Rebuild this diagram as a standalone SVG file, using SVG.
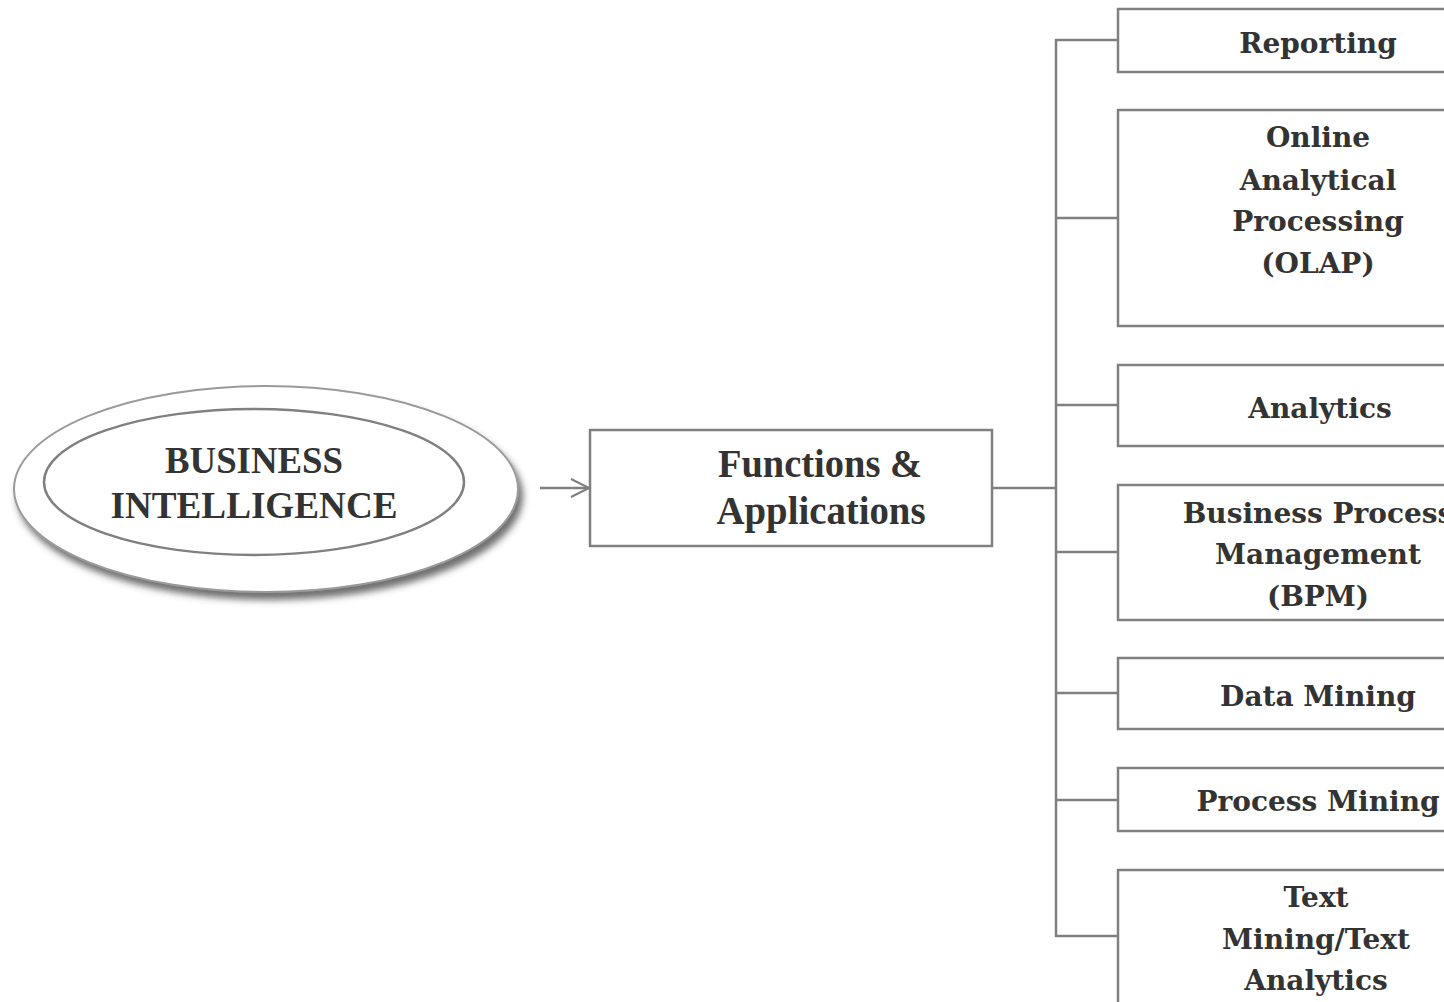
<svg xmlns="http://www.w3.org/2000/svg" width="1444" height="1002" viewBox="0 0 1444 1002">
  <defs>
    <filter id="shadow" x="-10%" y="-20%" width="125%" height="150%">
      <feDropShadow dx="4" dy="7" stdDeviation="3.5" flood-color="#404040" flood-opacity="0.75"/>
    </filter>
    <marker id="arrow" markerWidth="22" markerHeight="22" refX="19" refY="11" orient="auto" markerUnits="userSpaceOnUse">
      <path d="M1,2 L19,11 L1,20" fill="none" stroke="#808080" stroke-width="2.2"/>
    </marker>
    <style>
      .box { fill: #fff; stroke: #808080; stroke-width: 2.5; }
      .wire { fill: none; stroke: #808080; stroke-width: 2.5; }
      .serif { font-family: "Liberation Serif", "Times New Roman", serif; font-weight: bold; fill: #333; text-anchor: middle; }
      .item { font-family: "DejaVu Serif", "Liberation Serif", serif; font-weight: bold; font-size: 28px; fill: #333; text-anchor: middle; }
    </style>
  </defs>

  <!-- connectors -->
  <g id="connectors">
    <line class="wire" x1="540" y1="488" x2="589" y2="488" marker-end="url(#arrow)"/>
    <line class="wire" x1="992" y1="488" x2="1056" y2="488"/>
    <line class="wire" x1="1056" y1="39" x2="1056" y2="937"/>
    <line class="wire" x1="1055" y1="40" x2="1118" y2="40"/>
    <line class="wire" x1="1055" y1="218" x2="1118" y2="218"/>
    <line class="wire" x1="1055" y1="405" x2="1118" y2="405"/>
    <line class="wire" x1="1055" y1="552" x2="1118" y2="552"/>
    <line class="wire" x1="1055" y1="693" x2="1118" y2="693"/>
    <line class="wire" x1="1055" y1="800" x2="1118" y2="800"/>
    <line class="wire" x1="1055" y1="936" x2="1118" y2="936"/>
  </g>

  <!-- root node -->
  <g id="business-intelligence">
    <ellipse cx="266" cy="489" rx="252" ry="103" fill="#fff" stroke="#9a9a9a" stroke-width="2" filter="url(#shadow)"/>
    <ellipse cx="254" cy="482" rx="210" ry="73" fill="none" stroke="#808080" stroke-width="2.5"/>
    <text class="serif" x="254" y="473" font-size="38" textLength="178" lengthAdjust="spacingAndGlyphs">BUSINESS</text>
    <text class="serif" x="254" y="518" font-size="38" textLength="287" lengthAdjust="spacingAndGlyphs">INTELLIGENCE</text>
  </g>

  <g id="functions-applications">
    <rect class="box" x="590" y="430" width="402" height="116"/>
    <text class="serif" x="820" y="477" font-size="41" textLength="204" lengthAdjust="spacingAndGlyphs">Functions &amp;</text>
    <text class="serif" x="821" y="524" font-size="41" textLength="209" lengthAdjust="spacingAndGlyphs">Applications</text>
  </g>

  <g id="reporting">
    <rect class="box" x="1118" y="9" width="340" height="63"/>
    <text class="item" x="1318" y="53">Reporting</text>
  </g>

  <g id="olap">
    <rect class="box" x="1118" y="110" width="340" height="216"/>
    <text class="item" x="1318" y="147">Online</text>
    <text class="item" x="1318" y="190">Analytical</text>
    <text class="item" x="1318" y="231">Processing</text>
    <text class="item" x="1318" y="273">(OLAP)</text>
  </g>

  <g id="analytics">
    <rect class="box" x="1118" y="365" width="340" height="81"/>
    <text class="item" x="1320" y="418">Analytics</text>
  </g>

  <g id="bpm">
    <rect class="box" x="1118" y="485" width="340" height="135"/>
    <text class="item" x="1318" y="523">Business Process</text>
    <text class="item" x="1318" y="564">Management</text>
    <text class="item" x="1318" y="606">(BPM)</text>
  </g>

  <g id="data-mining">
    <rect class="box" x="1118" y="658" width="340" height="71"/>
    <text class="item" x="1318" y="706">Data Mining</text>
  </g>

  <g id="process-mining">
    <rect class="box" x="1118" y="768" width="340" height="63"/>
    <text class="item" x="1318" y="811">Process Mining</text>
  </g>

  <g id="text-mining">
    <rect class="box" x="1118" y="870" width="340" height="150"/>
    <text class="item" x="1316" y="907">Text</text>
    <text class="item" x="1316" y="949">Mining/Text</text>
    <text class="item" x="1316" y="990">Analytics</text>
  </g>
</svg>
